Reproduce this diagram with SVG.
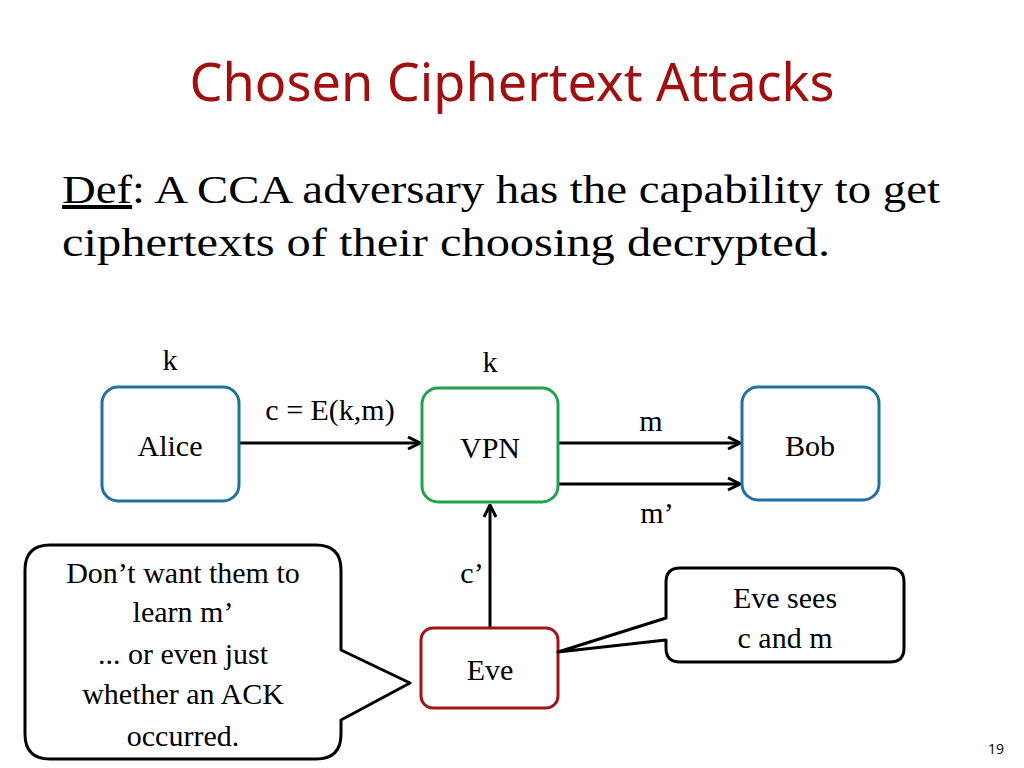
<svg xmlns="http://www.w3.org/2000/svg" width="1024" height="768" viewBox="0 0 1024 768">
<style>
.t{font-family:"Liberation Serif",serif;fill:#000}
.n{font-size:30px;text-anchor:middle}
.box{fill:#fff;stroke-width:3}
.ln{stroke:#000;stroke-width:3;fill:none}
.co{fill:#fff;stroke:#000;stroke-width:3;stroke-linejoin:round}
</style>
<defs><marker id="a" viewBox="0 0 10 10" refX="9" refY="5" markerWidth="5" markerHeight="5" orient="auto"><path d="M1 1L9 5L1 9" fill="none" stroke="#000" stroke-width="2"/></marker></defs>
<rect width="1024" height="768" fill="#fff"/>
<text x="512" y="101" text-anchor="middle" font-family="Noto Sans,sans-serif" font-size="52" fill="#a01010" textLength="645" lengthAdjust="spacingAndGlyphs">Chosen Ciphertext Attacks</text>
<text class="t" x="62" y="203" font-size="40" textLength="878" lengthAdjust="spacingAndGlyphs"><tspan text-decoration="underline">Def</tspan>: A CCA adversary has the capability to get</text>
<text class="t" x="62" y="256" font-size="40" textLength="768" lengthAdjust="spacingAndGlyphs">ciphertexts of their choosing decrypted.</text>
<text class="t n" x="170" y="370">k</text>
<text class="t n" x="490" y="372">k</text>
<g id="connectors">
<line class="ln" x1="239" y1="443" x2="420" y2="443" marker-end="url(#a)"/>
<line class="ln" x1="558" y1="443" x2="740" y2="443" marker-end="url(#a)"/>
<line class="ln" x1="558" y1="484" x2="740" y2="484" marker-end="url(#a)"/>
<line class="ln" x1="490" y1="628" x2="490" y2="505" marker-end="url(#a)"/>
<text class="t n" x="330" y="420">c = E(k,m)</text>
<text class="t n" x="651" y="431">m</text>
<text class="t n" x="657" y="523" font-size="36">m’</text>
<text class="t n" x="472" y="583" font-size="36">c’</text>
</g>
<g id="alice"><rect class="box" x="102" y="387" width="137" height="114" rx="16" stroke="#2070a0"/><text class="t n" x="170" y="456">Alice</text></g>
<g id="vpn"><rect class="box" x="422" y="388" width="136" height="114" rx="16" stroke="#22a050"/><text class="t n" x="490" y="458">VPN</text></g>
<g id="bob"><rect class="box" x="742" y="387" width="137" height="113" rx="16" stroke="#2070a0"/><text class="t n" x="810" y="456">Bob</text></g>
<g id="eve"><rect class="box" x="421" y="628" width="137" height="80" rx="12" stroke="#a01818"/><text class="t n" x="490" y="680">Eve</text></g>
<g id="callout-left"><path class="co" d="M50 545H316Q341 545 341 570V650L410 683L341 720V734Q341 759 316 759H50Q25 759 25 734V570Q25 545 50 545Z"/>
<g class="t n"><text x="183" y="583">Don’t want them to</text><text x="183" y="622">learn m’</text><text x="183" y="664">... or even just</text><text x="183" y="704">whether an ACK</text><text x="183" y="746">occurred.</text></g></g>
<g id="callout-right"><path class="co" d="M680 568H890Q904 568 904 582V648Q904 662 890 662H680Q666 662 666 648V640L558 652L666 618V582Q666 568 680 568Z"/>
<g class="t n"><text x="785" y="608">Eve sees</text><text x="785" y="648">c and m</text></g></g>
<text x="996" y="754" text-anchor="middle" font-family="Open Sans,sans-serif" font-size="14">19</text>
</svg>
